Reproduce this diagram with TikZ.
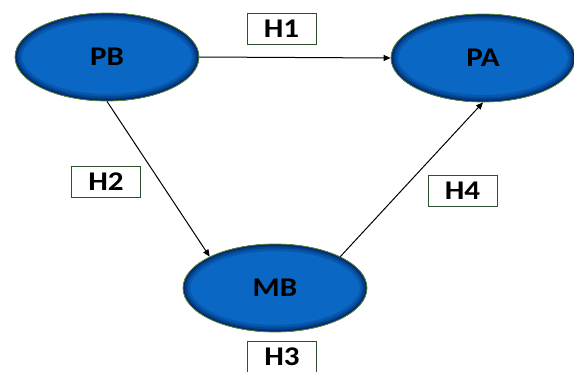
\documentclass[tikz,border=0pt]{standalone}
\usepackage{fontspec}
\setmainfont{Carlito}
\newfontfamily\labelfont[FakeStretch=1.15]{Carlito}
\definecolor{nodeblue}{RGB}{10, 104, 196}
\definecolor{rimblue}{RGB}{0, 35, 100}
\definecolor{rimgreen}{RGB}{100, 140, 60}
\definecolor{boxgreen}{RGB}{45, 80, 45}
\usetikzlibrary{shapes, arrows.meta, positioning}

\begin{document}
\begin{tikzpicture}[x=1pt, y=-1pt,
  construct/.style={ellipse, draw=rimgreen, line width=0.8pt, fill=nodeblue,
    minimum width=184pt, minimum height=88pt, inner sep=0pt,
    font=\labelfont\bfseries\fontsize{27}{27}\selectfont,
    path picture={
      \foreach \w/\c in {14/25, 9/50, 5/75, 2.5/100}
        \draw[rimblue!\c!nodeblue, line width=\w pt]
          (path picture bounding box.center) ellipse [x radius=92pt, y radius=44pt];
    }},
  hypbox/.style={rectangle, draw=boxgreen, line width=0.8pt, fill=white,
    minimum width=69pt, minimum height=31pt, inner sep=0pt,
    font=\labelfont\bfseries\fontsize{27}{27}\selectfont},
  path/.style={line width=1pt, -{Triangle[length=7pt, width=6pt]}}]
  \useasboundingbox (0,0) rectangle (574,372);

  % Constructs
  \node[construct] (pb) at (107, 57) {PB};
  \node[construct] (pa) at (483, 58) {PA};
  \node[construct] (mb) at (275, 288) {MB};

  % Paths
  \draw[path] (pb.east) -- (pa.west);
  \draw[path] (pb.south) -- (mb.north west);
  \draw[path] (mb.north east) -- (pa.south);

  % Hypotheses
  \node[hypbox] (h1) at (281.5, 28.5) {H1};
  \node[hypbox] (h2) at (106, 181.5) {H2};
  \node[hypbox] (h3) at (282, 357) {H3};
  \node[hypbox] (h4) at (462.5, 191) {H4};
\end{tikzpicture}
\end{document}
